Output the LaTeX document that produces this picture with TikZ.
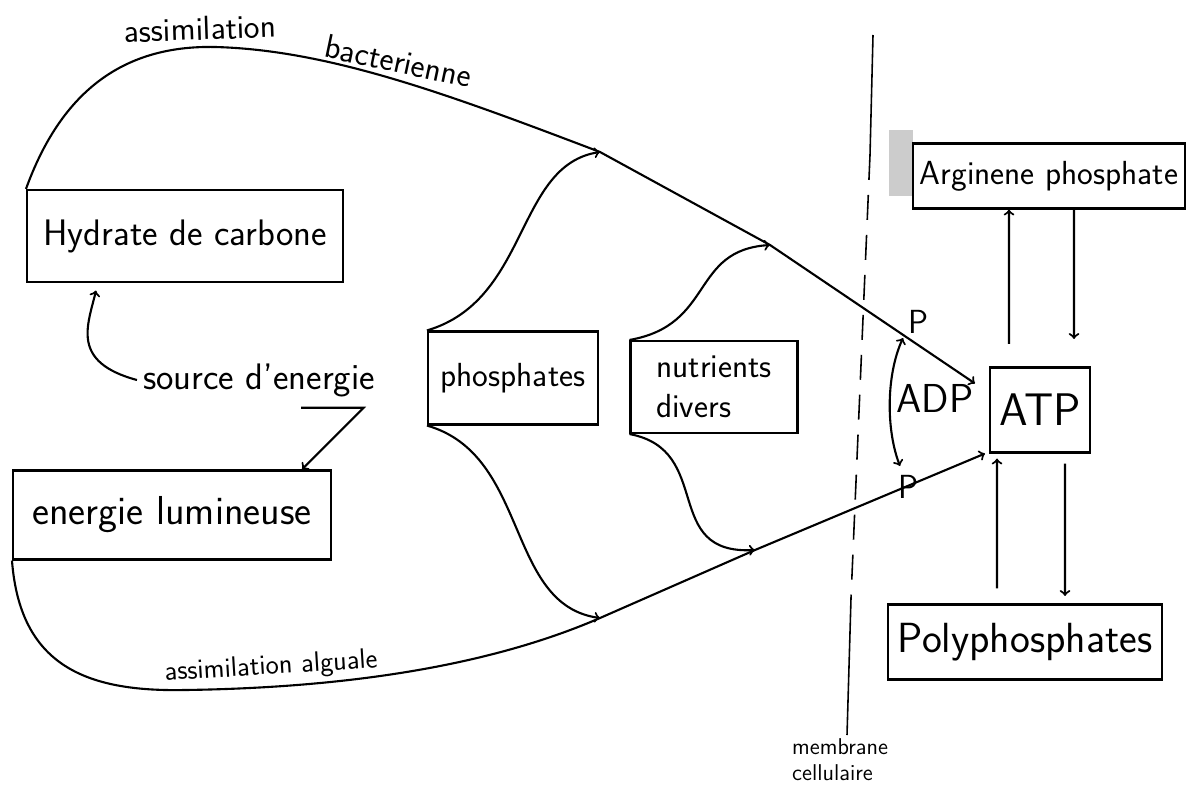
\documentclass[tikz,border=0pt]{standalone}
\usepackage{tikz}
\tikzset{
  box/.style={draw, line width=1.2pt, inner sep=3pt, font=\fontsize{19}{23}\selectfont\sffamily},
  lbl/.style={font=\fontsize{19}{23}\selectfont\sffamily},
  flow/.style={line width=1.2pt}
}

\begin{document}
\begin{tikzpicture}[x=0.02cm, y=-0.02cm]
\useasboundingbox (0,0) rectangle (1192,794);
\fill[black!20] (889,130) rectangle (913,196);
\node[box, minimum width=6.32cm, minimum height=1.84cm, font=\fontsize{21}{25}\selectfont\sffamily] (hyd) at (185,236) {Hydrate de carbone};
\node[box, minimum width=6.36cm, minimum height=1.78cm, font=\fontsize{23}{27}\selectfont\sffamily] (lum) at (172,515) {energie lumineuse};
\node[box, minimum width=3.4cm, minimum height=1.86cm] (phos) at (513,378) {phosphates};
\node[box, minimum width=3.34cm, minimum height=1.84cm, align=left] (nutr) at (714,387) {nutrients\\divers};
\node[box, minimum width=2cm, minimum height=1.7cm, font=\fontsize{26}{30}\selectfont\sffamily] (atp) at (1040,410) {ATP};
\node[lbl, font=\fontsize{23}{27}\selectfont\sffamily] (adp) at (935,398) {ADP};
\node[box, minimum width=5.44cm, minimum height=1.3cm] (arg) at (1049,176) {Arginene phosphate};
\node[box, minimum width=5.48cm, minimum height=1.5cm, font=\fontsize{24}{28}\selectfont\sffamily] (poly) at (1025,642) {Polyphosphates};
\node[lbl, font=\fontsize{21}{25}\selectfont\sffamily] (src) at (259,380) {source d'energie};
\node[lbl] (ptop) at (918,322) {P};
\node[lbl] (pbot) at (908,487) {P};
\node[lbl, font=\fontsize{13}{15}\selectfont\sffamily, align=left, anchor=north west] (mem) at (786,732) {membrane\\cellulaire};

\coordinate (bact1) at (600,152);
\coordinate (bact2) at (770,245);
\coordinate (alg1) at (600,618);
\coordinate (alg2) at (755,550);
\coordinate (m1) at (873,35);
\coordinate (m2) at (870,155);
\coordinate (m3) at (851,598);
\coordinate (m4) at (847,735);

\draw[flow, ->] (hyd.north west) .. controls (60,95) and (120,45) .. (215,47) node[lbl, sloped, above, pos=0.95] {assimilation} .. controls (330,50) and (450,95) .. (bact1) node[lbl, rotate=-12, anchor=south, pos=0.5] {bacterienne} -- (bact2) -- ([xshift=-0.28cm, yshift=-0.34cm]atp.north west);
\draw[flow, ->] (lum.south west) .. controls (20,665) and (85,692) .. (185,690) .. controls (330,688) and (480,670) .. (alg1) node[lbl, font=\fontsize{16}{19}\selectfont\sffamily, sloped, above, pos=0.2] {assimilation alguale} -- (alg2) -- ([xshift=-0.08cm]atp.south west);

\draw[flow, ->] (phos.north west) .. controls (530,300) and (515,165) .. (bact1);
\draw[flow, ->] (phos.south west) .. controls (530,455) and (505,605) .. (alg1);
\draw[flow, ->] (nutr.north west) .. controls (715,325) and (690,250) .. (bact2);
\draw[flow, ->] (nutr.south west) .. controls (715,450) and (660,555) .. (alg2);

\draw[flow, ->] (src.west) .. controls (70,362) and (88,325) .. ([xshift=1.4cm, yshift=-0.15cm]hyd.south west);
\draw[flow, ->] ([xshift=-1.6cm, yshift=-0.1cm]src.south east) -- ([xshift=-0.35cm, yshift=-0.1cm]src.south east) -- ([xshift=-0.6cm]lum.north east);

\draw[flow, <->] ([xshift=-0.3cm, yshift=-0.32cm]ptop.center) .. controls (886,375) and (886,430) .. ([xshift=-0.16cm, yshift=0.42cm]pbot.center);

\draw[flow, ->] ([xshift=-0.62cm, yshift=0.45cm]atp.north) -- ([xshift=-0.8cm]arg.south);
\draw[flow, ->] ([xshift=0.5cm]arg.south) -- ([xshift=0.68cm, yshift=0.55cm]atp.north);
\draw[flow, ->] ([xshift=-0.56cm, yshift=0.3cm]poly.north) -- ([xshift=-0.86cm, yshift=-0.1cm]atp.south);
\draw[flow, ->] ([xshift=0.5cm, yshift=-0.2cm]atp.south) -- ([xshift=0.8cm, yshift=0.15cm]poly.north);

\draw[line width=0.9pt] (m1) -- (m2);
\draw[line width=0.9pt, dash pattern=on 0.5cm off 0.3cm] (m2) -- (m3);
\draw[line width=0.9pt] (m3) -- (m4);
\end{tikzpicture}
\end{document}
